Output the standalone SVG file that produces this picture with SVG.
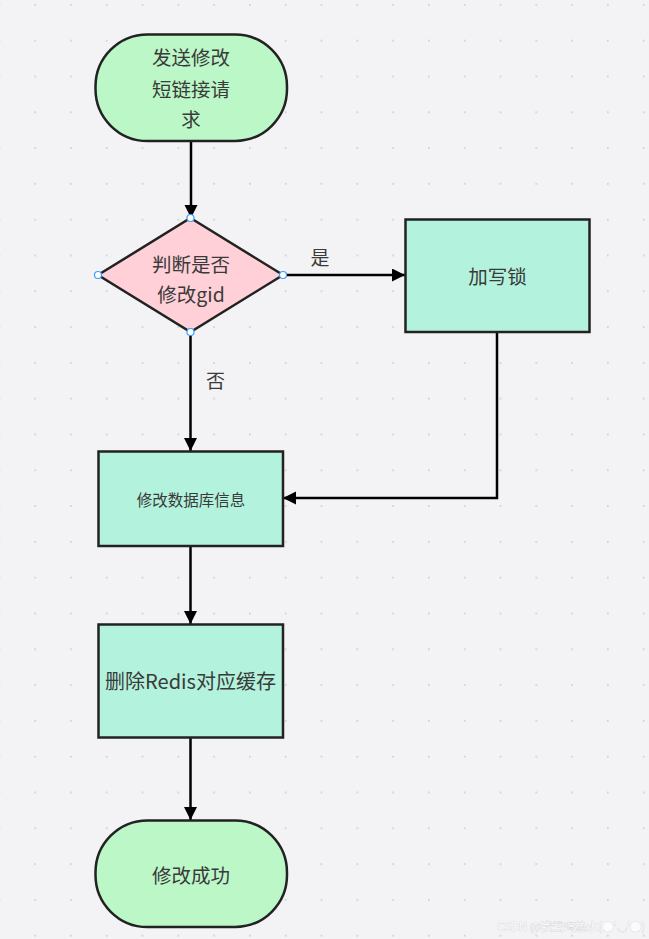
<svg xmlns="http://www.w3.org/2000/svg" width="649" height="939" viewBox="0 0 649 939">
<defs>
<pattern id="dots" patternUnits="userSpaceOnUse" x="34.2" y="3.9" width="35.8" height="35.8">
<circle cx="0.9" cy="0.9" r="0.9" fill="#c9c9cd"/>
</pattern>
<marker id="arr" markerUnits="userSpaceOnUse" markerWidth="14" markerHeight="14" refX="13" refY="6.5" orient="auto">
<path d="M0,0 L13,6.5 L0,13 z" fill="#000"/>
</marker>
<style>
.t{font-family:"Noto Sans CJK SC","Noto Sans",sans-serif;fill:#3a3a3a;text-anchor:middle;dominant-baseline:central}
.term{fill:#bbf7c7;stroke:#222;stroke-width:2.5}
.proc{fill:#b3f2dc;stroke:#222;stroke-width:2.5}
.dec{fill:#ffd0d7;stroke:#222;stroke-width:2.5}
.edge{fill:none;stroke:#000;stroke-width:2.5;marker-end:url(#arr)}
.h{fill:#fff;stroke:#3d9bff;stroke-width:1.2}
</style>
</defs>
<rect width="649" height="939" fill="#f3f3f6"/>
<rect width="649" height="939" fill="url(#dots)"/>
<g id="connectors">
<path class="edge" d="M191,141 V218"/>
<path class="edge" d="M283,275 H405"/>
<path class="edge" d="M497,332 V498 H283"/>
<path class="edge" d="M190.5,332 V451"/>
<path class="edge" d="M190.5,546 V624"/>
<path class="edge" d="M190.5,738 V820"/>
<text class="t" x="320" y="256" font-size="19">是</text>
<text class="t" x="215.5" y="379" font-size="19">否</text>
</g>
<g id="start">
<rect class="term" x="95.5" y="34.5" width="191.5" height="106.5" rx="52" ry="52"/>
<text class="t" x="191" y="56.5" font-size="19.5">发送修改</text>
<text class="t" x="191" y="88" font-size="19.5">短链接请</text>
<text class="t" x="191" y="118.5" font-size="19.5">求</text>
</g>
<g id="decision">
<polygon class="dec" points="190.5,218 283,275 190.5,332 98,275"/>
<text class="t" x="191" y="263" font-size="19.5">判断是否</text>
<text class="t" x="191" y="293" font-size="19.5">修改gid</text>
<circle class="h" cx="190.5" cy="218" r="3.5"/>
<circle class="h" cx="98" cy="275" r="3.5"/>
<circle class="h" cx="283" cy="275" r="3.5"/>
<circle class="h" cx="190.5" cy="332" r="3.5"/>
</g>
<g id="lock">
<rect class="proc" x="405.5" y="219.5" width="184" height="112.5"/>
<text class="t" x="497.5" y="275" font-size="19.5">加写锁</text>
</g>
<g id="updatedb">
<rect class="proc" x="98.5" y="451.5" width="184.5" height="94.5"/>
<text class="t" x="191" y="499" font-size="15.5">修改数据库信息</text>
</g>
<g id="delcache">
<rect class="proc" x="98.5" y="624.5" width="184.5" height="113"/>
<text class="t" x="190.5" y="680" font-size="20">删除Redis对应缓存</text>
</g>
<g id="end">
<rect class="term" x="95.5" y="820.5" width="191.5" height="106.5" rx="52" ry="52"/>
<text class="t" x="191" y="874" font-size="19.5">修改成功</text>
</g>
<g id="watermark">
<text x="497" y="931" font-size="11.5" font-family="Noto Sans CJK SC,Noto Sans,sans-serif" fill="#fbfbfb" stroke="#c4c4c4" stroke-width="0.5" paint-order="stroke">CSDN @我爱喝热水(●'◡'●)</text>
</g>
</svg>
